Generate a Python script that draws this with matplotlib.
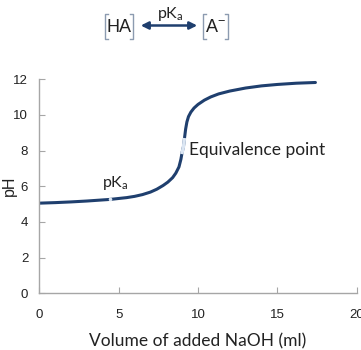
import matplotlib
matplotlib.use("Agg")
import matplotlib.pyplot as plt
from matplotlib.patches import FancyArrowPatch

# ---- data ----
volume_ml = [0, 1.0, 2.0, 3.0, 4.46, 5.5, 6.0, 6.5, 7.0, 7.4, 7.8, 8.1, 8.4, 8.6,
             8.8, 8.92, 9.0, 9.08, 9.15, 9.22, 9.3, 9.4, 9.55, 9.75, 10.0, 10.4,
             10.8, 11.3, 12.0, 13.0, 14.0, 15.0, 16.2, 17.4]
ph_values = [5.05, 5.08, 5.12, 5.17, 5.26, 5.36, 5.43, 5.53, 5.67, 5.83, 6.04, 6.23,
             6.48, 6.73, 7.08, 7.5, 7.9, 8.2, 8.7, 9.2, 9.6, 9.9, 10.15, 10.38,
             10.58, 10.82, 11.0, 11.17, 11.33, 11.5, 11.62, 11.7, 11.77, 11.81]
pka_point = (4.46, 5.26)
eq_segment_x = [8.98, 9.08, 9.15]
eq_segment_y = [7.8, 8.2, 8.7]
x_ticks = [0, 5, 10, 15, 20]
y_ticks = [0, 2, 4, 6, 8, 10, 12]

navy = "#1f3f6e"
light = "#dbe6f3"

plt.rcParams['mathtext.default'] = 'regular'
fig = plt.figure(figsize=(3.61, 3.50), dpi=100)
ax = fig.add_axes([0.109, 0.162, 0.879, 0.612])

ax.plot(volume_ml, ph_values, color=navy, lw=2.2, solid_capstyle='round',
        solid_joinstyle='round')
ax.plot(eq_segment_x, eq_segment_y, color=light, lw=2.4, solid_capstyle='butt')
ax.plot([pka_point[0]], [pka_point[1]], marker='o', ms=2.6, color=light, mec='none')

ax.set_xlim(0, 20)
ax.set_ylim(0, 12)
ax.set_xticks(x_ticks)
ax.set_yticks(y_ticks)
for s in ['top', 'right']:
    ax.spines[s].set_visible(False)
for s in ['left', 'bottom']:
    ax.spines[s].set_color('#a6a6a6')
    ax.spines[s].set_linewidth(1.0)
ax.tick_params(direction='in', length=4, color='#a6a6a6', labelsize=9.5,
               labelcolor='#222222')
ax.tick_params(axis='x', pad=11)
ax.tick_params(axis='y', pad=8)
for lab in ax.get_xticklabels() + ax.get_yticklabels():
    lab.set_fontfamily('Liberation Sans')

ax.set_xlabel('Volume of added NaOH (ml)', fontsize=12.5, family='Lato',
              color='#222222')
ax.xaxis.set_label_coords(0.5, -0.185)
ax.set_ylabel('pH', fontsize=11.5, family='Liberation Sans', color='#222222')
ax.yaxis.set_label_coords(-0.072, 0.5)

ax.text(9.45, 8.0, 'Equivalence point', fontsize=12.5, family='Lato',
        color='#222222', va='center', ha='left')
ax.text(3.95, 5.65, 'pK$_a$', fontsize=11.5, family='Lato', color='#222222',
        va='bottom', ha='left')

# ---- top scheme ----
def fx(px):
    return px / 361.0
def fy(py):
    return 1 - py / 350.0

fig.text(fx(119), fy(27), 'HA', fontsize=13, family='Liberation Sans',
         color='#222222', ha='center', va='center')
fig.text(fx(215.5), fy(27), 'A$^{-}$', fontsize=13, family='Liberation Sans',
         color='#222222', ha='center', va='center')

def bracket(x0, x1, y0, y1):
    s = 3
    fig.lines.append(plt.Line2D([fx(x0 + s), fx(x0), fx(x0), fx(x0 + s)],
                                [fy(y0), fy(y0), fy(y1), fy(y1)],
                                transform=fig.transFigure, color='#8c9bb0', lw=1.0))
    fig.lines.append(plt.Line2D([fx(x1 - s), fx(x1), fx(x1), fx(x1 - s)],
                                [fy(y0), fy(y0), fy(y1), fy(y1)],
                                transform=fig.transFigure, color='#8c9bb0', lw=1.0))

bracket(105, 133, 14, 39)
bracket(203, 228, 14, 39)

arr = FancyArrowPatch((fx(138), fy(25.5)), (fx(200), fy(25.5)),
                      transform=fig.transFigure, arrowstyle='<|-|>',
                      mutation_scale=11, color=navy, lw=1.8)
fig.patches.append(arr)
fig.text(fx(170), fy(14), 'pK$_a$', fontsize=11.5, family='Lato', color='#222222',
         ha='center', va='center')

fig.savefig('out.png', dpi=100)
